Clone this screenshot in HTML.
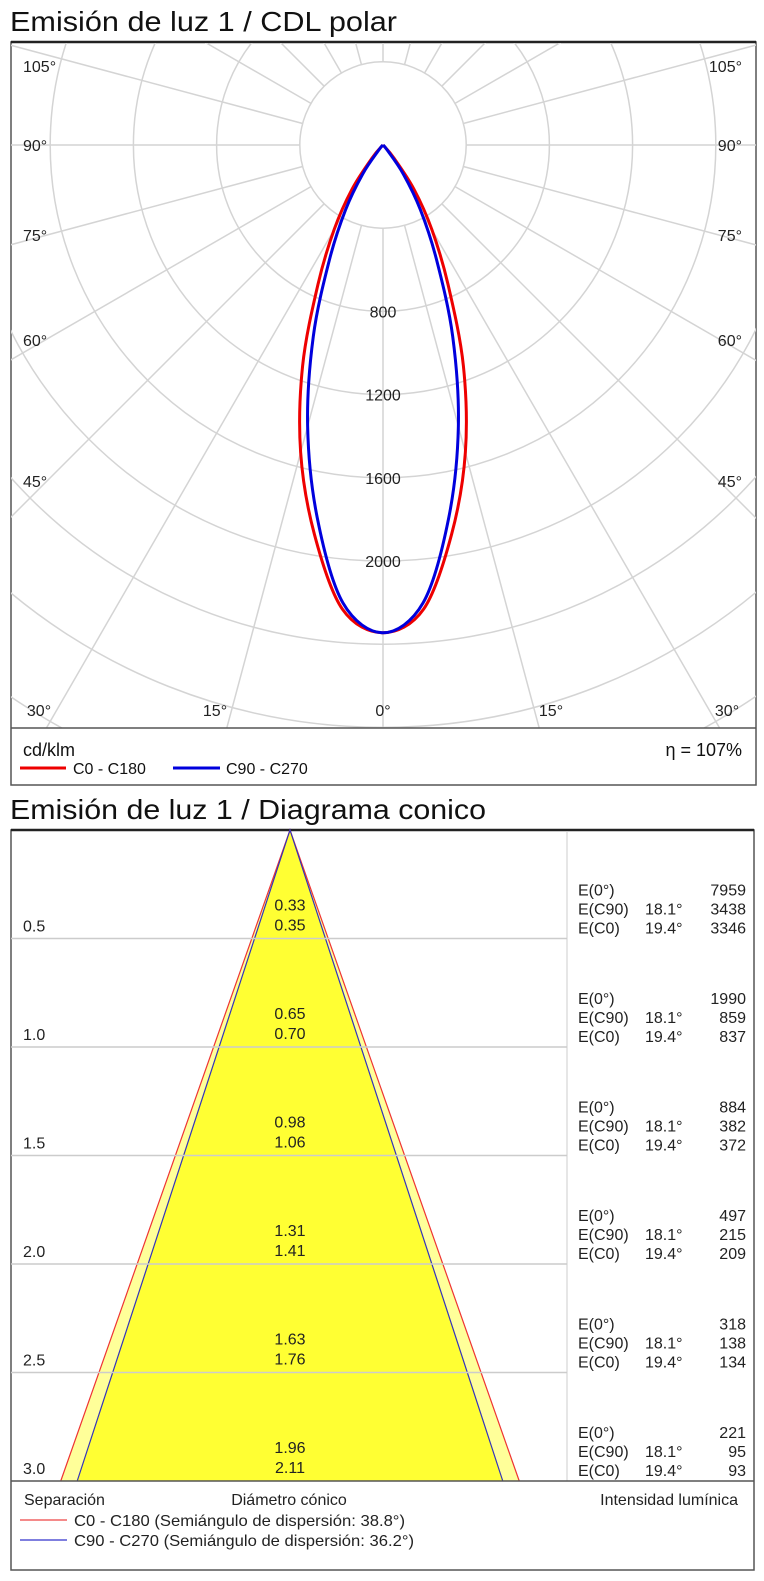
<!DOCTYPE html>
<html><head><meta charset="utf-8"><style>
html,body{margin:0;padding:0;background:#fff}
svg{display:block;font-family:"Liberation Sans",Arial,sans-serif}
</style></head><body>
<svg id="s" width="764" height="1581" viewBox="0 0 764 1581" xmlns="http://www.w3.org/2000/svg">
<defs>
<clipPath id="pc"><rect x="11" y="43" width="745" height="685"/></clipPath>
</defs>
<text x="10" y="31" font-size="28" textLength="387" lengthAdjust="spacingAndGlyphs" fill="#111">Emisión de luz 1 / CDL polar</text>
<g id="polar">
<rect x="11" y="42" width="745" height="743" fill="#fff" stroke="#555" stroke-width="1.5"/>
<line x1="11" y1="42" x2="756" y2="42" stroke="#222" stroke-width="2.5"/>
<g id="grid" clip-path="url(#pc)"></g>
<g id="curves" clip-path="url(#pc)"></g>
<g id="rlabels"></g>
<g font-size="16" fill="#222">
<text x="23" y="72">105°</text><text x="742" y="72" text-anchor="end">105°</text>
<text x="23" y="151">90°</text><text x="742" y="151" text-anchor="end">90°</text>
<text x="23" y="241">75°</text><text x="742" y="241" text-anchor="end">75°</text>
<text x="23" y="346">60°</text><text x="742" y="346" text-anchor="end">60°</text>
<text x="23" y="487">45°</text><text x="742" y="487" text-anchor="end">45°</text>
<text x="39" y="716" text-anchor="middle">30°</text><text x="215" y="716" text-anchor="middle">15°</text>
<text x="383" y="716" text-anchor="middle">0°</text><text x="551" y="716" text-anchor="middle">15°</text>
<text x="727" y="716" text-anchor="middle">30°</text>
</g>
<line x1="11" y1="728" x2="756" y2="728" stroke="#555" stroke-width="1.5"/>
<text x="23" y="756" font-size="18" fill="#111">cd/klm</text>
<text x="742" y="756" font-size="18" fill="#111" text-anchor="end">η = 107%</text>
<g><line x1="20" y1="768" x2="66" y2="768" stroke="#e00" stroke-width="3"/><text x="73" y="774" font-size="16" fill="#111">C0 - C180</text></g>
<g><line x1="173" y1="768" x2="220" y2="768" stroke="#00d" stroke-width="3"/><text x="226" y="774" font-size="16" fill="#111">C90 - C270</text></g>
</g>

<text x="10" y="819" font-size="28" textLength="476" lengthAdjust="spacingAndGlyphs" fill="#111">Emisión de luz 1 / Diagrama conico</text>
<g id="conic">
<rect x="11" y="830" width="743" height="740" fill="#fff" stroke="#555" stroke-width="1.5"/>
<line x1="11" y1="830" x2="754" y2="830" stroke="#222" stroke-width="2.5"/>
<line x1="567" y1="831" x2="567" y2="1481" stroke="#ccc" stroke-width="1"/>
<g id="cone"></g>
<g id="crows"></g>
<line x1="11" y1="1481" x2="754" y2="1481" stroke="#555" stroke-width="1.5"/>
<g font-size="16" fill="#222">
<text x="24" y="1505">Separación</text>
<text x="289" y="1505" text-anchor="middle">Diámetro cónico</text>
<text x="738" y="1505" text-anchor="end">Intensidad lumínica</text>
</g>
<g><line x1="20" y1="1520" x2="67" y2="1520" stroke="#e44" stroke-width="1.2"/><text x="74" y="1526" font-size="16" textLength="331" lengthAdjust="spacingAndGlyphs" fill="#222">C0 - C180 (Semiángulo de dispersión: 38.8°)</text></g>
<g><line x1="20" y1="1540" x2="67" y2="1540" stroke="#33c" stroke-width="1.2"/><text x="74" y="1546" font-size="16" textLength="340" lengthAdjust="spacingAndGlyphs" fill="#222">C90 - C270 (Semiángulo de dispersión: 36.2°)</text></g>
</g>
</svg>
<script>
// Polar data (cd/klm)
const gammas = [0,5,10,15,20,25,30,35,40,45];
const redC0 = [2345,2240,1900,1530,1130,740,470,260,80,0];
const blueC90 = [2345,2210,1820,1400,980,610,360,170,30,0];
const radialTicks = [800,1200,1600,2000];
const gridRings = [400,800,1200,1600,2000,2400,2800,3200,3600,4000,4400];
// Conic data
const distances = [0.5,1.0,1.5,2.0,2.5,3.0];
const diamC90 = ["0.33","0.65","0.98","1.31","1.63","1.96"];
const diamC0 = ["0.35","0.70","1.06","1.41","1.76","2.11"];
const E0 = [7959,1990,884,497,318,221];
const EC90 = [3438,859,382,215,138,95];
const EC0 = [3346,837,372,209,134,93];
const halfC0 = 19.4, halfC90 = 18.1;

const NS="http://www.w3.org/2000/svg";
function mk(tag,attrs,parent){const e=document.createElementNS(NS,tag);for(const k in attrs)e.setAttribute(k,attrs[k]);parent.appendChild(e);return e;}
const cx=383, cy=145, sc=83.2/400;
const rr = v => v*sc;
const grid=document.getElementById('grid');
gridRings.forEach(v=>{
  const c=mk('circle',{cx:cx,cy:cy,r:rr(v),fill:'none',stroke:'#d4d4d4','stroke-width':1.5},grid);
  
  
});
for(let a=0;a<360;a+=15){
  const t=a*Math.PI/180, r0=rr(400), r1=rr(5000);
  const l=mk('line',{x1:cx+r0*Math.sin(t),y1:cy+r0*Math.cos(t),x2:cx+r1*Math.sin(t),y2:cy+r1*Math.cos(t),stroke:'#d4d4d4','stroke-width':1.5},grid);
  
  
}
function curve(vals,color,name){
  const pts=[];
  for(let i=gammas.length-1;i>=0;i--){const t=gammas[i]*Math.PI/180;pts.push([cx-rr(vals[i])*Math.sin(t),cy+rr(vals[i])*Math.cos(t)]);}
  for(let i=1;i<gammas.length;i++){const t=gammas[i]*Math.PI/180;pts.push([cx+rr(vals[i])*Math.sin(t),cy+rr(vals[i])*Math.cos(t)]);}
  let d='M'+pts[0].join(',');
  for(let i=1;i<pts.length;i++){
    const p0=pts[Math.max(0,i-2)],p1=pts[i-1],p2=pts[i],p3=pts[Math.min(pts.length-1,i+1)];
    const c1=[p1[0]+(p2[0]-p0[0])/6,p1[1]+(p2[1]-p0[1])/6],c2=[p2[0]-(p3[0]-p1[0])/6,p2[1]-(p3[1]-p1[1])/6];
    d+=' C'+c1.join(',')+' '+c2.join(',')+' '+p2.join(',');
  }
  const p=mk('path',{d:d,fill:'none',stroke:color,'stroke-width':3,'stroke-linejoin':'round'},document.getElementById('curves'));
  
  
}
curve(redC0,'#e00','curve-c0-c180');
curve(blueC90,'#00d','curve-c90-c270');
const rl=document.getElementById('rlabels');
radialTicks.forEach(v=>{
  const t=mk('text',{x:cx,y:cy+rr(v)+6,'font-size':16,'text-anchor':'middle',fill:'#222'},rl);
  t.textContent=v;
  
  
});
// Conic
const ax=290, ay=830, cs=217;
const maxD=distances[distances.length-1];
const cone=document.getElementById('cone');
const w0=maxD*Math.tan(halfC0*Math.PI/180)*cs, w9=maxD*Math.tan(halfC90*Math.PI/180)*cs, by=ay+maxD*cs;
const o=mk('polygon',{points:`${ax},${ay} ${ax-w0},${by} ${ax+w0},${by}`,fill:'#ffff99'},cone);


const inn=mk('polygon',{points:`${ax},${ay} ${ax-w9},${by} ${ax+w9},${by}`,fill:'#ffff33'},cone);


const crows=document.getElementById('crows');
distances.forEach((d,i)=>{
  const y=ay+d*cs;
  if(i<distances.length-1){
    const l=mk('line',{x1:11,y1:y,x2:567,y2:y,stroke:'#ccc','stroke-width':1.5},crows);
    
    
  }
  const items=[[23,y-7,d.toFixed(1),'start','distance-label'],[ax,y-28,diamC90[i],'middle','diameter-c90'],[ax,y-8,diamC0[i],'middle','diameter-c0'],
   [578,y-43,'E(0°)','start','e0-label'],[746,y-43,E0[i],'end','e0-value'],
   [578,y-24,'E(C90)','start','ec90-label'],[645,y-24,halfC90.toFixed(1)+'°','start','ec90-angle'],[746,y-24,EC90[i],'end','ec90-value'],
   [578,y-5,'E(C0)','start','ec0-label'],[645,y-5,halfC0.toFixed(1)+'°','start','ec0-angle'],[746,y-5,EC0[i],'end','ec0-value']];
  items.forEach(it=>{
    const t=mk('text',{x:it[0],y:it[1],'font-size':16,'text-anchor':it[3],fill:'#222'},crows);
    t.textContent=it[2];
    
    
  });
});
[[w0,'#e33','cone-c0-edge'],[w9,'#33b','cone-c90-edge']].forEach(e=>{
  const p=mk('polyline',{points:`${ax-e[0]},${by} ${ax},${ay} ${ax+e[0]},${by}`,fill:'none',stroke:e[1],'stroke-width':1.2},cone);
  
  
});
</script>
</body></html>
